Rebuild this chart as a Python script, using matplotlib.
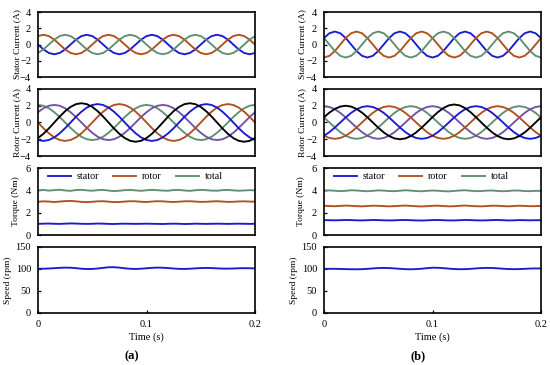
import numpy as np
import matplotlib
matplotlib.use("Agg")
import matplotlib.pyplot as plt

plt.rcParams['font.family'] = ['Liberation Serif', 'DejaVu Serif']
plt.rcParams['axes.unicode_minus'] = True

# ---------------- data ----------------
t = np.linspace(0, 0.2, 41)

# Stator currents (A)
stator_a_blue = [0, -0.6, -1.04, -1.2, -1.04, -0.6, 0, 0.6, 1.04, 1.2, 1.04, 0.6,
                 0, -0.6, -1.04, -1.2, -1.04, -0.6, 0, 0.6, 1.04, 1.2, 1.04, 0.6,
                 0, -0.6, -1.04, -1.2, -1.04, -0.6, 0, 0.6, 1.04, 1.2, 1.04, 0.6,
                 0, -0.6, -1.04, -1.2, -1.04]
stator_a_brown = [1.04, 1.2, 1.04, 0.6, 0, -0.6, -1.04, -1.2, -1.04, -0.6, 0, 0.6,
                  1.04, 1.2, 1.04, 0.6, 0, -0.6, -1.04, -1.2, -1.04, -0.6, 0, 0.6,
                  1.04, 1.2, 1.04, 0.6, 0, -0.6, -1.04, -1.2, -1.04, -0.6, 0, 0.6,
                  1.04, 1.2, 1.04, 0.6, 0]
stator_a_green = [-1.04, -0.6, 0, 0.6, 1.04, 1.2, 1.04, 0.6, 0, -0.6, -1.04, -1.2,
                  -1.04, -0.6, 0, 0.6, 1.04, 1.2, 1.04, 0.6, 0, -0.6, -1.04, -1.2,
                  -1.04, -0.6, 0, 0.6, 1.04, 1.2, 1.04, 0.6, 0, -0.6, -1.04, -1.2,
                  -1.04, -0.6, 0, 0.6, 1.04]

stator_b_blue = [0.8, 1.39, 1.6, 1.39, 0.8, 0, -0.8, -1.39, -1.6, -1.39, -0.8, 0,
                 0.8, 1.39, 1.6, 1.39, 0.8, 0, -0.8, -1.39, -1.6, -1.39, -0.8, 0,
                 0.8, 1.39, 1.6, 1.39, 0.8, 0, -0.8, -1.39, -1.6, -1.39, -0.8, 0,
                 0.8, 1.39, 1.6, 1.39, 0.8]
stator_b_brown = [-1.6, -1.39, -0.8, 0, 0.8, 1.39, 1.6, 1.39, 0.8, 0, -0.8, -1.39,
                  -1.6, -1.39, -0.8, 0, 0.8, 1.39, 1.6, 1.39, 0.8, 0, -0.8, -1.39,
                  -1.6, -1.39, -0.8, 0, 0.8, 1.39, 1.6, 1.39, 0.8, 0, -0.8, -1.39,
                  -1.6, -1.39, -0.8, 0, 0.8]
stator_b_green = [0.8, 0, -0.8, -1.39, -1.6, -1.39, -0.8, 0, 0.8, 1.39, 1.6, 1.39,
                  0.8, 0, -0.8, -1.39, -1.6, -1.39, -0.8, 0, 0.8, 1.39, 1.6, 1.39,
                  0.8, 0, -0.8, -1.39, -1.6, -1.39, -0.8, 0, 0.8, 1.39, 1.6, 1.39,
                  0.8, 0, -0.8, -1.39, -1.6]

# Rotor currents (A)
rotor_a_black = [-1.86, -1.35, -0.71, 0, 0.71, 1.35, 1.86, 2.19,
                 2.3, 2.19, 1.86, 1.35, 0.71, 0, -0.71, -1.35, -1.86, -2.19,
                 -2.3, -2.19, -1.86, -1.35, -0.71, 0, 0.71, 1.35, 1.86, 2.19,
                 2.3, 2.19, 1.86, 1.35, 0.71, 0, -0.71, -1.35, -1.86, -2.19,
                 -2.3, -2.19, -1.86]
rotor_a_blue = [-2.09, -2.2, -2.09, -1.78, -1.29, -0.68, 0, 0.68, 1.29, 1.78, 2.09,
                2.2, 2.09, 1.78, 1.29, 0.68, 0, -0.68, -1.29, -1.78, -2.09,
                -2.2, -2.09, -1.78, -1.29, -0.68, 0, 0.68, 1.29, 1.78, 2.09,
                2.2, 2.09, 1.78, 1.29, 0.68, 0, -0.68, -1.29, -1.78, -2.09]
rotor_a_brown = [0, -0.68, -1.29, -1.78, -2.09, -2.2, -2.09, -1.78, -1.29, -0.68,
                 0, 0.68, 1.29, 1.78, 2.09,
                 2.2, 2.09, 1.78, 1.29, 0.68, 0, -0.68, -1.29, -1.78, -2.09,
                 -2.2, -2.09, -1.78, -1.29, -0.68, 0, 0.68, 1.29, 1.78, 2.09,
                 2.2, 2.09, 1.78, 1.29, 0.68, 0]
rotor_a_green = [2.1, 2.0, 1.7, 1.23, 0.65, 0, -0.65, -1.23, -1.7, -2.0,
                 -2.1, -2.0, -1.7, -1.23, -0.65, 0, 0.65, 1.23, 1.7, 2.0,
                 2.1, 2.0, 1.7, 1.23, 0.65, 0, -0.65, -1.23, -1.7, -2.0,
                 -2.1, -2.0, -1.7, -1.23, -0.65, 0, 0.65, 1.23, 1.7, 2.0,
                 2.1]
rotor_a_purple = [1.23, 1.7, 2.0,
                  2.1, 2.0, 1.7, 1.23, 0.65, 0, -0.65, -1.23, -1.7, -2.0,
                  -2.1, -2.0, -1.7, -1.23, -0.65, 0, 0.65, 1.23, 1.7, 2.0,
                  2.1, 2.0, 1.7, 1.23, 0.65, 0, -0.65, -1.23, -1.7, -2.0,
                  -2.1, -2.0, -1.7, -1.23, -0.65, 0, 0.65, 1.23]

rotor_b_black = [0.62, 1.18, 1.62, 1.9,
                 2.0, 1.9, 1.62, 1.18, 0.62, 0, -0.62, -1.18, -1.62, -1.9,
                 -2.0, -1.9, -1.62, -1.18, -0.62, 0, 0.64, 1.24, 1.72, 2.04,
                 2.15, 2.04, 1.72, 1.24, 0.64, 0, -0.62, -1.18, -1.62, -1.9,
                 -2.0, -1.9, -1.62, -1.18, -0.62, 0, 0.62]
rotor_b_blue = [-1.58, -1.15, -0.6, 0, 0.6, 1.15, 1.58, 1.85,
                1.95, 1.85, 1.58, 1.15, 0.6, 0, -0.6, -1.15, -1.58, -1.85,
                -1.95, -1.85, -1.58, -1.15, -0.6, 0, 0.6, 1.15, 1.58, 1.85,
                1.95, 1.85, 1.58, 1.15, 0.6, 0, -0.6, -1.15, -1.58, -1.85,
                -1.95, -1.85, -1.58]
rotor_b_brown = [-1.58, -1.85, -1.95, -1.85, -1.58, -1.15, -0.6, 0, 0.6, 1.15, 1.58, 1.85,
                 1.95, 1.85, 1.58, 1.15, 0.6, 0, -0.6, -1.15, -1.58, -1.85,
                 -1.95, -1.85, -1.58, -1.15, -0.6, 0, 0.6, 1.15, 1.58, 1.85,
                 1.95, 1.85, 1.58, 1.15, 0.6, 0, -0.6, -1.15, -1.58]
rotor_b_green = [0.6, 0, -0.6, -1.15, -1.58, -1.85, -1.95, -1.85, -1.58, -1.15,
                 -0.6, 0, 0.6, 1.15, 1.58, 1.85,
                 1.95, 1.85, 1.58, 1.15, 0.6, 0, -0.6, -1.15, -1.58, -1.85,
                 -1.95, -1.85, -1.58, -1.15, -0.6, 0, 0.6, 1.15, 1.58, 1.85,
                 1.95, 1.85, 1.58, 1.15, 0.6]
rotor_b_purple = [1.95, 1.85, 1.58, 1.15, 0.6, 0, -0.6, -1.15, -1.58, -1.85,
                  -1.95, -1.85, -1.58, -1.15, -0.6, 0, 0.6, 1.15, 1.58, 1.85,
                  1.95, 1.85, 1.58, 1.15, 0.6, 0, -0.6, -1.15, -1.58, -1.85,
                  -1.95, -1.85, -1.58, -1.15, -0.6, 0, 0.6, 1.15, 1.58, 1.85,
                  1.95]

# Torque (Nm)
torque_a_total = [4.00, 4.04, 3.98, 4.02, 4.06, 3.99, 3.96, 4.03, 4.05, 4.00, 3.97,
                  4.02, 4.05, 3.98, 3.94, 3.97, 4.02, 4.04, 4.00, 3.96, 4.01, 4.05,
                  4.02, 3.98, 3.97, 4.03, 4.04, 3.99, 3.96, 4.01, 4.05, 4.02, 3.98,
                  3.97, 4.02, 4.04, 4.00, 3.97, 3.99, 4.02, 4.00]
torque_a_rotor = [2.98, 3.02, 3.00, 2.96, 3.00, 3.04, 3.06, 3.02, 2.97, 2.95, 2.98,
                  3.02, 3.03, 2.99, 2.95, 2.96, 3.00, 3.03, 3.02, 2.98, 2.96, 3.00,
                  3.03, 3.02, 2.98, 2.96, 2.99, 3.02, 3.03, 3.00, 2.97, 2.98, 3.01,
                  3.03, 3.00, 2.97, 2.98, 3.01, 3.02, 3.00, 2.99]
torque_a_stator = [1.00, 1.02, 1.03, 1.01, 1.00, 1.02, 1.04, 1.03, 1.01, 1.00, 1.01,
                   1.03, 1.02, 1.00, 0.99, 1.01, 1.02, 1.01, 1.00, 1.01, 1.02, 1.01,
                   1.00, 0.99, 1.01, 1.02, 1.01, 0.99, 1.00, 1.02, 1.01, 1.00, 1.01,
                   1.02, 1.01, 1.00, 1.01, 1.02, 1.01, 1.00, 1.01]

torque_b_total = [3.96, 4.00, 3.97, 3.93, 3.96, 4.01, 3.99, 3.95, 3.92, 3.96, 4.00,
                  3.98, 3.94, 3.93, 3.97, 4.01, 3.98, 3.94, 3.92, 3.96, 3.99, 3.97,
                  3.93, 3.91, 3.95, 3.99, 4.01, 3.97, 3.93, 3.94, 3.98, 3.99, 3.95,
                  3.92, 3.95, 3.99, 3.98, 3.94, 3.93, 3.96, 3.95]
torque_b_rotor = [2.62, 2.60, 2.58, 2.61, 2.64, 2.62, 2.59, 2.57, 2.60, 2.63, 2.62,
                  2.59, 2.57, 2.59, 2.62, 2.64, 2.61, 2.58, 2.56, 2.59, 2.62, 2.63,
                  2.60, 2.57, 2.58, 2.62, 2.64, 2.61, 2.58, 2.57, 2.60, 2.63, 2.62,
                  2.59, 2.57, 2.60, 2.63, 2.61, 2.58, 2.59, 2.61]
torque_b_stator = [1.34, 1.33, 1.32, 1.33, 1.35, 1.34, 1.32, 1.31, 1.33, 1.35, 1.34,
                   1.32, 1.31, 1.32, 1.34, 1.35, 1.33, 1.31, 1.30, 1.32, 1.34, 1.35,
                   1.33, 1.31, 1.31, 1.33, 1.35, 1.34, 1.32, 1.31, 1.32, 1.34, 1.35,
                   1.33, 1.31, 1.32, 1.34, 1.33, 1.32, 1.33, 1.33]

# Speed (rpm)
speed_a = [100.5, 100.5, 101.0, 101.8, 102.5, 103.0, 102.8, 101.8, 100.5, 99.8, 100.0,
           101.0, 102.5, 103.8, 104.0, 103.0, 101.5, 100.3, 100.0, 100.5, 101.5,
           102.5, 103.0, 102.8, 102.0, 101.0, 100.2, 100.0, 100.5, 101.3, 102.0,
           102.3, 102.0, 101.3, 100.8, 100.7, 101.0, 101.5, 101.8, 101.6, 101.2]
speed_b = [100.2, 100.3, 100.3, 100.0, 99.6, 99.3, 99.2, 99.5, 100.2, 101.2, 102.0,
           102.3, 102.0, 101.2, 100.3, 99.5, 99.2, 99.6, 100.5, 101.8, 102.8,
           102.6, 101.8, 100.7, 99.8, 99.4, 99.5, 100.2, 101.2, 102.0, 102.4,
           102.2, 101.4, 100.5, 99.8, 99.5, 99.7, 100.3, 100.9, 101.2, 101.0]

x_ticks = [0, 0.1, 0.2]
x_ticklabels = ["0", "0.1", "0.2"]

# ---------------- styling ----------------
C_BLUE = '#1a1ad0'
C_BROWN = '#b0501e'
C_GREEN = '#5f8f6f'
C_PURPLE = '#7352a6'
C_BLACK = '#000000'
LW = 1.35
FS_TICK = 7.5
FS_LAB = 6.8

fig = plt.figure(figsize=(5.5, 3.65), dpi=100)

W = 217 / 550
lefts = [38 / 550, 324 / 550]
rows = [(0.789, 0.178), (0.5726, 0.1836), (0.356, 0.1836), (0.1425, 0.181)]

def style(ax, yticks, ylim, ylabel, labx, bottom=False):
    ax.set_xlim(0, 0.2)
    ax.set_ylim(*ylim)
    ax.set_yticks(yticks)
    ax.set_yticklabels([f"{v:g}".replace('-', '\u2212') for v in yticks])
    for s in ax.spines.values():
        s.set_linewidth(1.2)
    ax.tick_params(axis='y', direction='in', length=2.5, width=0.9, labelsize=FS_TICK, pad=5)
    if bottom:
        ax.set_xticks(x_ticks)
        ax.set_xticklabels(x_ticklabels)
        ax.tick_params(axis='x', direction='in', length=2.5, width=0.9, labelsize=FS_TICK, pad=5)
        ax.set_xlabel('Time (s)', fontsize=FS_TICK)
        ax.xaxis.set_label_coords(0.5, -0.30)
    else:
        ax.set_xticks(x_ticks)
        ax.tick_params(axis='x', length=0, labelbottom=False)
    ax.set_ylabel(ylabel, fontsize=FS_LAB)
    ax.yaxis.set_label_coords(labx, 0.5)

cols = [
    dict(st=(stator_a_blue, stator_a_brown, stator_a_green),
         ro=(rotor_a_green, rotor_a_purple, rotor_a_brown, rotor_a_blue, rotor_a_black),
         tq=(torque_a_stator, torque_a_rotor, torque_a_total),
         sp=speed_a, labx=[-0.078, -0.078, -0.083, -0.12], tag='(a)', tagx=132),
    dict(st=(stator_b_blue, stator_b_brown, stator_b_green),
         ro=(rotor_b_green, rotor_b_purple, rotor_b_brown, rotor_b_blue, rotor_b_black),
         tq=(torque_b_stator, torque_b_rotor, torque_b_total),
         sp=speed_b, labx=[-0.084, -0.084, -0.088, -0.118], tag='(b)', tagx=418),
]

for ci, col in enumerate(cols):
    L = lefts[ci]
    axs = [fig.add_axes([L, b, W, h]) for (b, h) in rows]

    # stator current
    ax = axs[0]
    for y, c in zip(col['st'], (C_BLUE, C_BROWN, C_GREEN)):
        ax.plot(t, y, color=c, lw=LW)
    style(ax, [-4, -2, 0, 2, 4], (-4, 4), 'Stator Current (A)', col['labx'][0])

    # rotor current
    ax = axs[1]
    for y, c in zip(col['ro'], (C_GREEN, C_PURPLE, C_BROWN, C_BLUE, C_BLACK)):
        ax.plot(t, y, color=c, lw=LW)
    style(ax, [-4, -2, 0, 2, 4], (-4, 4), 'Rotor Current (A)', col['labx'][1])

    # torque
    ax = axs[2]
    for y, c, lab in zip(col['tq'], (C_BLUE, C_BROWN, C_GREEN), ('stator', 'rotor', 'total')):
        ax.plot(t, y, color=c, lw=LW, label=lab)
    style(ax, [0, 2, 4, 6], (0, 6), 'Torque (Nm)', col['labx'][2])
    ax.legend(loc='center left', bbox_to_anchor=(0.045, 0.87), ncol=3, frameon=False,
              fontsize=7.2, handlelength=2.3, handletextpad=0.6, columnspacing=1.4,
              borderpad=0, borderaxespad=0)

    # speed
    ax = axs[3]
    ax.plot(t, col['sp'], color=C_BLUE, lw=LW)
    style(ax, [0, 50, 100, 150], (0, 150), 'Speed (rpm)', col['labx'][3], bottom=True)

    fig.text(col['tagx'] / 550, 1 - 356 / 365, col['tag'], fontsize=9,
             fontweight='bold', ha='center', va='center')

fig.savefig('out.png', dpi=100)
